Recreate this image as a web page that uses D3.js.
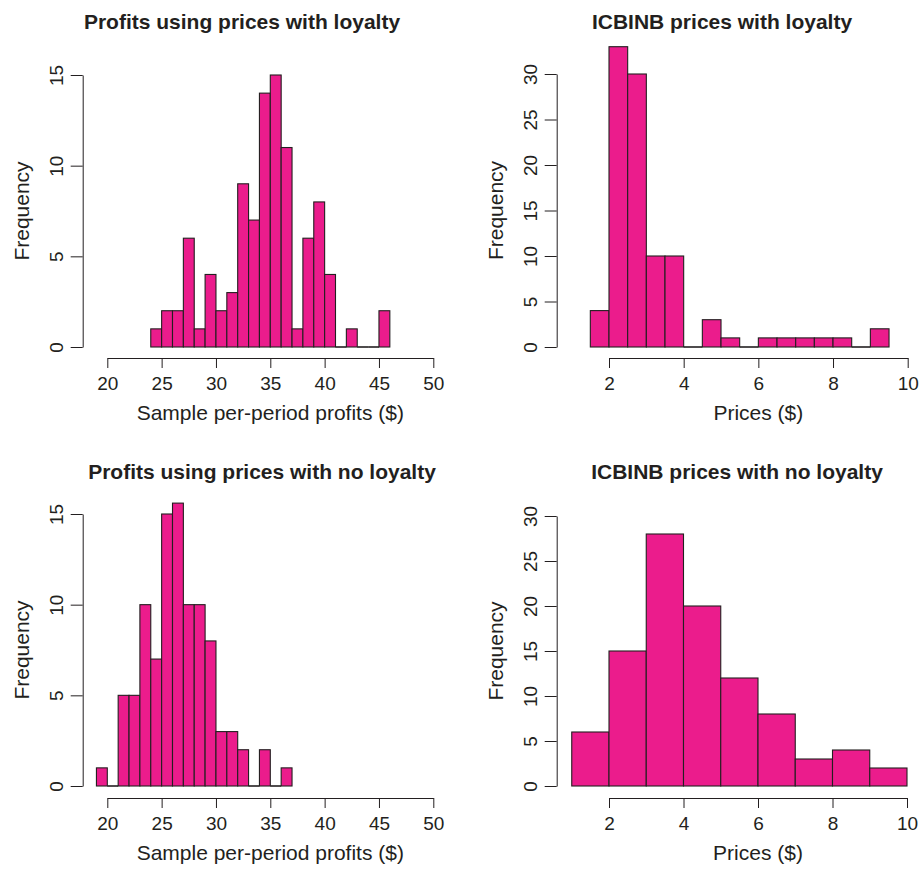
<!DOCTYPE html>
<html><head><meta charset="utf-8">
<script src="https://cdn.jsdelivr.net/npm/d3@7/dist/d3.min.js"></script>
<style>
body{margin:0;background:#fff;}
text{font-family:"Liberation Sans",Arial,Helvetica,sans-serif;fill:#231f20;}
</style></head>
<body><svg id="c" width="919" height="869"></svg>
<script>
// Panel 1: Profits using prices with loyalty
const p1Edges = [24,25,26,27,28,29,30,31,32,33,34,35,36,37,38,39,40,41,42,43,44,45,46];
const p1Counts = [1,2,2,6,1,4,2,3,9,7,14,15,11,1,6,8,4,0,1,0,0,2];
// Panel 2: ICBINB prices with loyalty
const p2Edges = [1.5,2,2.5,3,3.5,4,4.5,5,5.5,6,6.5,7,7.5,8,8.5,9,9.5];
const p2Counts = [4,33,30,10,10,0,3,1,0,1,1,1,1,1,0,2];
// Panel 3: Profits using prices with no loyalty
const p3Edges = [19,20,21,22,23,24,25,26,27,28,29,30,31,32,33,34,35,36,37];
const p3Counts = [1,0,5,5,10,7,15,15.6,10,10,8,3,3,2,0,2,0,1];
// Panel 4: ICBINB prices with no loyalty
const p4Edges = [1,2,3,4,5,6,7,8,9,10];
const p4Counts = [6,15,28,20,12,8,3,4,2];

const profitTicks = [20,25,30,35,40,45,50];
const priceTicks = [2,4,6,8,10];
const yTicks15 = [0,5,10,15];
const yTicks30 = [0,5,10,15,20,25,30];

const titles = ["Profits using prices with loyalty","ICBINB prices with loyalty",
  "Profits using prices with no loyalty","ICBINB prices with no loyalty"];
const xTitles = ["Sample per-period profits ($)","Prices ($)","Sample per-period profits ($)","Prices ($)"];
const yTitle = "Frequency";

const FILL = "#eb1c8c", STROKE = "#231f20";
const svg = d3.select("#c");

const panels = [
  {edges:p1Edges, counts:p1Counts, xt:profitTicks, yt:yTicks15, xr:[107.3,433.3], yr:[347,75], yAxisX:82.7, xAxisY:358, titleX:242, titleY:29},
  {edges:p2Edges, counts:p2Counts, xt:priceTicks, yt:yTicks30, xr:[609,907.7], yr:[347,74], yAxisX:556.7, xAxisY:358, titleX:722, titleY:29},
  {edges:p3Edges, counts:p3Counts, xt:profitTicks, yt:yTicks15, xr:[107.3,433.3], yr:[786,514], yAxisX:82.7, xAxisY:798, titleX:262, titleY:479},
  {edges:p4Edges, counts:p4Counts, xt:priceTicks, yt:yTicks30, xr:[609,907], yr:[786,516], yAxisX:556.7, xAxisY:798, titleX:737, titleY:479}
];

panels.forEach((p,i)=>{
  const g = svg.append("g");
  const x = d3.scaleLinear().domain([p.xt[0], p.xt[p.xt.length-1]]).range(p.xr);
  const y = d3.scaleLinear().domain([p.yt[0], p.yt[p.yt.length-1]]).range(p.yr);
  const bins = p.counts.map((c,k)=>({x0:p.edges[k], x1:p.edges[k+1], c}));
  g.selectAll("rect").data(bins.filter(d=>d.c>0)).join("rect")
    .attr("x", d=>x(d.x0)).attr("width", d=>x(d.x1)-x(d.x0))
    .attr("y", d=>y(d.c)).attr("height", d=>y(0)-y(d.c))
    .attr("fill", FILL).attr("stroke", STROKE).attr("stroke-width", 1.1);
  g.selectAll("line.zero").data(bins.filter(d=>d.c===0)).join("line").attr("class","zero")
    .attr("x1", d=>x(d.x0)).attr("x2", d=>x(d.x1))
    .attr("y1", y(0)).attr("y2", y(0))
    .attr("stroke", STROKE).attr("stroke-width", 1.6);

  const xa = g.append("g").attr("transform",`translate(0,${p.xAxisY})`)
    .call(d3.axisBottom(x).tickValues(p.xt).tickSize(10).tickSizeOuter(0).tickPadding(9));
  xa.selectAll("path,line").attr("stroke", STROKE).attr("stroke-width",1);
  xa.selectAll("text").attr("font-size",19).attr("fill","#231f20").style("font-family","Liberation Sans, Arial, sans-serif");

  const ya = g.append("g").attr("transform",`translate(${p.yAxisX},0)`)
    .call(d3.axisLeft(y).tickValues(p.yt).tickSize(12).tickSizeOuter(0).tickPadding(0));
  ya.selectAll("path,line").attr("stroke", STROKE).attr("stroke-width",1);
  ya.selectAll("text").attr("font-size",19).attr("fill","#231f20").style("font-family","Liberation Sans, Arial, sans-serif")
    .attr("text-anchor","middle").attr("x",0).attr("dy",0)
    .attr("transform","translate(-26,0) rotate(-90)").attr("y",0).attr("dominant-baseline","central");

  g.append("text").attr("x",p.titleX).attr("y",p.titleY).attr("text-anchor","middle")
    .attr("font-size",21).attr("font-weight","bold").text(titles[i]);
  g.append("text").attr("x",(p.xr[0]+p.xr[1])/2).attr("y",p.xAxisY+62).attr("text-anchor","middle")
    .attr("font-size",21).text(xTitles[i]);
  const ym = (p.yr[0]+p.yr[1])/2;
  g.append("text").attr("transform",`translate(${p.yAxisX-54},${ym}) rotate(-90)`)
    .attr("text-anchor","middle").attr("font-size",21).text(yTitle);
});
</script></body></html>
